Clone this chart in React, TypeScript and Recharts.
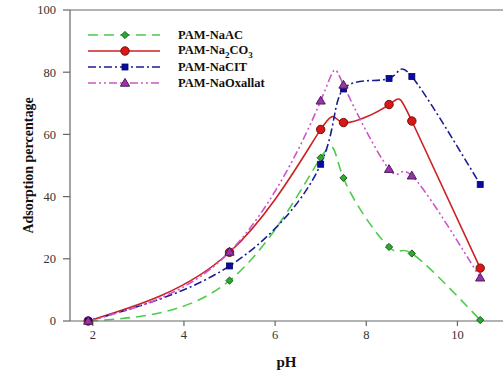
import React from 'react';
import { LineChart, Line, XAxis, YAxis, ReferenceLine } from 'recharts';

const pHValues = [1.9, 5, 7, 7.5, 8.5, 9, 10.5];
const naAC = [0, 13, 52.5, 46, 23.8, 21.7, 0.3];
const na2CO3 = [0, 22.1, 61.6, 63.8, 69.6, 64.3, 17];
const naCIT = [0, 17.7, 50.4, 74.6, 78, 78.6, 43.9];
const naOxallat = [0, 22.2, 70.8, 75.9, 48.8, 46.7, 13.9];
const xTicks = [2, 4, 6, 8, 10];
const yTicks = [0, 20, 40, 60, 80, 100];

const data = pHValues.map((p, i) => ({
  pH: p,
  naAC: naAC[i],
  na2CO3: na2CO3[i],
  naCIT: naCIT[i],
  naOxallat: naOxallat[i],
}));

const FONT = '"Liberation Serif", "Times New Roman", serif';
const AXIS = '#666';

type Kind = 'diamond' | 'circle' | 'square' | 'triangle';

function marker(kind: Kind, cx: number, cy: number, fill: string, stroke: string, key?: string | number) {
  if (kind === 'diamond') {
    const r = 3.6;
    return <path key={key} d={`M${cx},${cy - r}L${cx + r},${cy}L${cx},${cy + r}L${cx - r},${cy}Z`} fill={fill} stroke={stroke} strokeWidth={1} />;
  }
  if (kind === 'circle') {
    return <circle key={key} cx={cx} cy={cy} r={4.2} fill={fill} stroke={stroke} strokeWidth={1} />;
  }
  if (kind === 'square') {
    const s = 3;
    return <rect key={key} x={cx - s} y={cy - s} width={2 * s} height={2 * s} fill={fill} stroke={stroke} strokeWidth={0.8} />;
  }
  const r = 4.6;
  return (
    <path key={key} d={`M${cx},${cy - r}L${cx + r},${cy + r * 0.7}L${cx - r},${cy + r * 0.7}Z`} fill={fill} stroke={stroke} strokeWidth={1} />
  );
}

const seriesDefs = [
  { key: 'naAC', label: 'PAM-NaAC', color: '#4ccc4c', dash: '10 6', kind: 'diamond' as Kind, fill: '#2fa82f', stroke: '#145c14' },
  { key: 'na2CO3', label: 'PAM-Na2CO3', color: '#cc2222', dash: undefined, kind: 'circle' as Kind, fill: '#dd1515', stroke: '#701010' },
  { key: 'naCIT', label: 'PAM-NaCIT', color: '#1c1c96', dash: '8 3 2 3', kind: 'square' as Kind, fill: '#0a0aa5', stroke: '#050560' },
  { key: 'naOxallat', label: 'PAM-NaOxallat', color: '#cc55cc', dash: '8 3 2 3 2 3', kind: 'triangle' as Kind, fill: '#9933aa', stroke: '#4c1a5a' },
];

function LegendBox() {
  return (
    <div style={{ position: 'absolute', left: 86, top: 27, fontFamily: FONT, fontWeight: 'bold', fontSize: 12.5, color: '#111' }}>
      {seriesDefs.map((s) => (
        <div key={s.key} style={{ display: 'flex', alignItems: 'center', height: 16 }}>
          <svg width={76} height={14} style={{ display: 'block' }}>
            <line x1={2} y1={7} x2={74} y2={7} stroke={s.color} strokeWidth={1.6} strokeDasharray={s.dash} />
            {marker(s.kind, 39, 7, s.fill, s.stroke)}
          </svg>
          <span style={{ marginLeft: 16, whiteSpace: 'nowrap' }}>
            {s.key === 'na2CO3' ? (
              <>PAM-Na<sub style={{ fontSize: 9 }}>2</sub>CO<sub style={{ fontSize: 9 }}>3</sub></>
            ) : (
              s.label
            )}
          </span>
        </div>
      ))}
    </div>
  );
}

const XTick = (props: any) => {
  const { x, y, payload } = props;
  return (
    <text x={x} y={y} dy={10} textAnchor="middle" fontFamily={FONT} fontSize={12.5} fill="#333">
      {payload.value}
    </text>
  );
};

const YTick = (props: any) => {
  const { x, y, payload } = props;
  return (
    <text x={x} y={y} dy={4.3} textAnchor="end" fontFamily={FONT} fontSize={12.5} fill="#333">
      {payload.value}
    </text>
  );
};

export default function App() {
  return (
    <div style={{ position: 'absolute', left: 0, top: 0, width: 503, height: 375, background: '#fff', fontFamily: FONT }}>
      <LineChart width={503} height={375} data={data} margin={{ top: 10, right: 0, left: 0, bottom: 0 }}>
        <ReferenceLine y={100} stroke={AXIS} strokeWidth={1.2} />
        <XAxis
          type="number"
          dataKey="pH"
          domain={[1.5, 11]}
          ticks={xTicks}
          allowDataOverflow
          height={54}
          stroke={AXIS}
          strokeWidth={1.2}
          tickSize={5}
          tickMargin={3}
          tick={<XTick />}
          label={{ value: 'pH', position: 'insideBottom', offset: 8, style: { fontFamily: FONT, fontWeight: 'bold', fontSize: 15, fill: '#111' } }}
        />
        <YAxis
          type="number"
          domain={[0, 100]}
          ticks={yTicks}
          width={70}
          stroke={AXIS}
          strokeWidth={1.2}
          tickSize={7}
          tickMargin={7}
          tick={<YTick />}
          label={{ value: 'Adsorption percentage', angle: -90, position: 'insideLeft', offset: 28, style: { fontFamily: FONT, fontWeight: 'bold', fontSize: 14, fill: '#111', textAnchor: 'middle' } }}
        />
        {seriesDefs.map((s) => (
          <Line
            key={s.key}
            dataKey={s.key}
            type="natural"
            stroke={s.color}
            strokeWidth={1.6}
            strokeDasharray={s.dash}
            isAnimationActive={false}
            dot={(p: any) => marker(s.kind, p.cx, p.cy, s.fill, s.stroke, `${s.key}-${p.index}`)}
            activeDot={false}
          />
        ))}
      </LineChart>
      <LegendBox />
    </div>
  );
}
